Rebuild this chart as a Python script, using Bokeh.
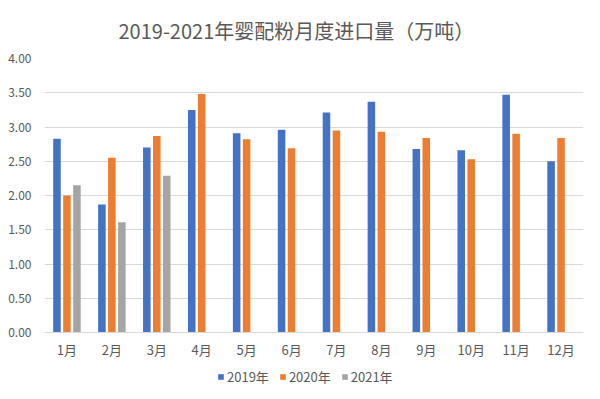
from bokeh.plotting import figure
from bokeh.layouts import column
from bokeh.models import (FactorRange, Range1d, ColumnDataSource, Legend, LegendItem,
                          Title, SingleIntervalTicker, NumeralTickFormatter)
from bokeh.transform import dodge
from bokeh.embed import file_html
from bokeh.resources import INLINE

months = ["1月", "2月", "3月", "4月", "5月", "6月", "7月", "8月", "9月", "10月", "11月", "12月"]
v2019 = [2.83, 1.87, 2.70, 3.25, 2.91, 2.96, 3.21, 3.37, 2.68, 2.66, 3.47, 2.50]
v2020 = [2.00, 2.55, 2.87, 3.48, 2.82, 2.69, 2.95, 2.93, 2.84, 2.53, 2.90, 2.84]
months2021 = ["1月", "2月", "3月"]
v2021 = [2.15, 1.61, 2.29]
series_names = ["2019年", "2020年", "2021年"]
colors = ["#4472C4", "#ED7D31", "#A5A5A5"]
title_text = "2019-2021年婴配粉月度进口量（万吨）"

FONT = "Noto Sans CJK SC"
TXT = "#595959"

p = figure(width=592, height=366, x_range=FactorRange(*months, range_padding=0),
           y_range=Range1d(0, 4), output_backend="svg", toolbar_location=None,
           min_border_left=44, min_border_right=9, min_border_top=57, min_border_bottom=34)

p.title = Title(text=title_text, align="left", text_font=FONT, text_font_size="20px",
                text_color=TXT, text_font_style="normal", offset=74, standoff=27)

src_a = ColumnDataSource(dict(m=months, y1=v2019, y2=v2020))
src_b = ColumnDataSource(dict(m=months2021, y3=v2021))
bw = 0.168
off = 0.222
p.vbar(x=dodge("m", -off, range=p.x_range), top="y1", width=bw, source=src_a,
       color=colors[0], line_color=None)
p.vbar(x=dodge("m", 0.0, range=p.x_range), top="y2", width=bw, source=src_a,
       color=colors[1], line_color=None)
p.vbar(x=dodge("m", off, range=p.x_range), top="y3", width=bw, source=src_b,
       color=colors[2], line_color=None)

p.outline_line_color = None
p.background_fill_color = "white"
p.border_fill_color = "white"

p.xgrid.grid_line_color = None
p.ygrid.grid_line_color = "#D9D9D9"
p.ygrid.grid_line_width = 1

p.yaxis.ticker = SingleIntervalTicker(interval=0.5)
p.yaxis.formatter = NumeralTickFormatter(format="0.00")
p.yaxis.axis_line_color = None
p.yaxis.major_tick_line_color = None
p.yaxis.minor_tick_line_color = None
p.yaxis.major_label_standoff = 7
p.yaxis.major_label_text_font = FONT
p.yaxis.major_label_text_font_size = "12px"
p.yaxis.major_label_text_color = TXT

p.xaxis.axis_line_color = "#D9D9D9"
p.xaxis.major_tick_line_color = None
p.xaxis.minor_tick_line_color = None
p.xaxis.major_label_standoff = 1
p.xaxis.major_label_text_font = FONT
p.xaxis.major_label_text_font_size = "13px"
p.xaxis.major_label_text_color = TXT

# Legend strip below the chart (same series, drawn out of view so only the key shows)
lg = figure(width=592, height=20, x_range=FactorRange(*months, range_padding=0),
            y_range=Range1d(100, 101), output_backend="svg", toolbar_location=None,
            x_axis_location=None, y_axis_location=None,
            min_border=0, min_border_left=0, min_border_right=0,
            min_border_top=0, min_border_bottom=0)
lg.grid.visible = False
lg.outline_line_color = None
lg.background_fill_color = "white"
lg.border_fill_color = "white"
k1 = lg.vbar(x="m", top="y1", width=bw, source=src_a, color=colors[0], line_color=None)
k2 = lg.vbar(x="m", top="y2", width=bw, source=src_a, color=colors[1], line_color=None)
k3 = lg.vbar(x="m", top="y3", width=bw, source=src_b, color=colors[2], line_color=None)

legend = Legend(items=[LegendItem(label=series_names[0], renderers=[k1]),
                       LegendItem(label=series_names[1], renderers=[k2]),
                       LegendItem(label=series_names[2], renderers=[k3])],
                orientation="horizontal", location=(173, 0),
                glyph_width=7, glyph_height=7, label_standoff=3, spacing=10,
                label_text_font=FONT, label_text_font_size="13px", label_text_color=TXT,
                border_line_color=None, background_fill_alpha=0, padding=0, margin=0)
lg.add_layout(legend, "center")

layout = column(p, lg, spacing=0)
open("out.html", "w").write(file_html(layout, INLINE))
